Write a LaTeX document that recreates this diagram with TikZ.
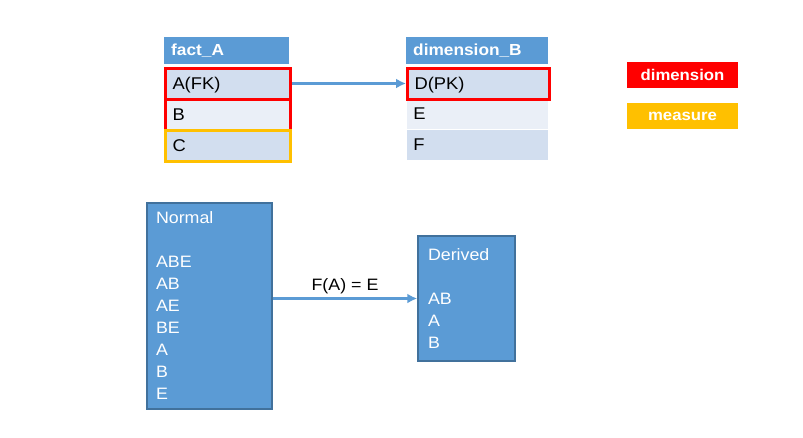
\documentclass[tikz,border=0pt]{standalone}
\usepackage{fontspec}
\setmainfont{Liberation Sans}[FakeStretch=1.08]
\usetikzlibrary{arrows.meta,positioning}

\definecolor{hdrblue}{HTML}{5B9BD5}
\definecolor{boxedge}{HTML}{41719C}
\definecolor{rowdark}{HTML}{D2DEEF}
\definecolor{rowlight}{HTML}{EAEFF7}
\definecolor{dimred}{HTML}{FF0000}
\definecolor{measorange}{HTML}{FFC000}

\newcommand\tblfont{\fontsize{17}{20}\selectfont}
\newcommand\hdfont{\fontsize{16}{19}\selectfont\bfseries}
\newcommand\legfont{\fontsize{15.5}{18}\selectfont\bfseries}
\newcommand\boxfont{\fontsize{16.5}{22}\selectfont}

\tikzset{
  tblhead/.style={fill=hdrblue, text=white, font=\hdfont, anchor=north west,
    inner xsep=7pt, minimum height=27pt, text width=#1},
  tblrow/.style={fill=rowdark, draw=white, line width=0.8pt, text=black, font=\tblfont,
    anchor=north west, inner xsep=7pt, minimum height=31pt, text width=#1,
    text height=13pt, text depth=1pt},
  keyred/.style={draw=dimred, line width=3pt},
  keyorange/.style={draw=measorange, line width=3pt},
  legend/.style={text=white, font=\legfont, minimum width=111pt, minimum height=26pt},
  bigbox/.style={fill=hdrblue, draw=boxedge, line width=1.5pt, text=white, font=\boxfont,
    align=left, inner xsep=9pt},
  link/.style={draw=hdrblue, line width=3pt, -{Latex[length=10pt,width=10pt]}}
}

\begin{document}
\begin{tikzpicture}[x=1pt,y=-1pt]
\useasboundingbox (0,0) rectangle (803,437);

% fact table
\node[tblhead=111pt] (facthd) at (164,37) {fact\_A};
\node[tblrow=111pt, keyred] (fA) at (164,66.5) {A(FK)};
\node[tblrow=111pt, fill=rowlight, keyred] (fB) at (164,97.5) {B};
\node[tblrow=111pt, keyorange] (fC) at (164,128.5) {C};

% dimension table
\node[tblhead=128pt] (dimhd) at (406,37) {dimension\_B};
\node[tblrow=128pt, fill=rowlight] (dE) at (406,97.5) {E};
\node[tblrow=128pt] (dF) at (406,128.5) {F};
\node[tblrow=128pt, keyred] (dD) at (406,66.5) {D(PK)};

\draw[link] (fA.east) -- (dD.west);

% legend
\node[legend, fill=dimred] (legdim) at (682.5,74.5) {dimension};
\node[legend, fill=measorange] (legmeas) at (682.5,116) {measure};

% normal and derived
\node[bigbox, minimum width=125pt, minimum height=206pt, text width=107pt] (normal) at (209.5,306)
  {Normal\\[22pt]ABE\\AB\\AE\\BE\\A\\B\\E};
\node[bigbox, minimum width=97pt, minimum height=125pt, text width=77pt, inner xsep=10pt] (derived) at (466.5,298.5)
  {Derived\\[22pt]AB\\A\\B};

\draw[link] (normal.east |- derived.west) -- (derived.west)
  node[midway, above, font=\boxfont, text=black] (fae) {F(A) = E};
\end{tikzpicture}
\end{document}
